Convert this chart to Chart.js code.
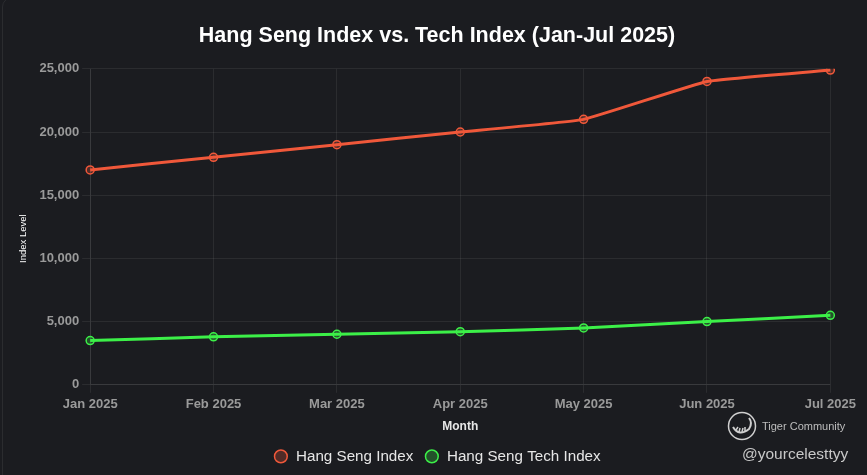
<!DOCTYPE html>
<html>
<head>
<meta charset="utf-8">
<title>Hang Seng Index vs. Tech Index</title>
<script src="https://cdn.jsdelivr.net/npm/chart.js"></script>
<style>
  html, body { margin: 0; padding: 0; background: #1b1c20; overflow: hidden; }
  .wrap { position: relative; width: 867px; height: 475px; }
  .card { position: absolute; left: 2px; top: -3px; width: 870px; height: 490px; border: 1px solid rgba(255,255,255,0.07); border-radius: 10px; box-sizing: border-box; }
  canvas { position: absolute; left: 0; top: 0; display: block; }
  .mark { position: absolute; color: #c8c8c8; font-family: 'Liberation Sans', Arial, sans-serif; }
  .brand { left: 727px; top: 411px; display: flex; align-items: center; font-size: 11px; color: #bdbdbd; }
  .brand svg { margin-right: 5px; }
  .handle { left: 742px; top: 445px; font-size: 15.5px; }
</style>
</head>
<body>
<div class="wrap">
  <div class="card"></div>
  <canvas id="chart" width="860" height="475"></canvas>
  <div class="mark brand">
    <svg width="30" height="30" viewBox="0 0 30 30">
      <circle cx="15" cy="15" r="13.5" fill="none" stroke="#cfcfcf" stroke-width="1.5"/>
      <path d="M6 16 Q12 26 22 18 Q26 12 22 7" fill="none" stroke="#cfcfcf" stroke-width="2"/>
      <path d="M9 19 L11 16 M12 21 L13 17 M15 21 L16 17 M18 20 L18 16" stroke="#cfcfcf" stroke-width="1.5"/>
    </svg>
    Tiger Community
  </div>
  <div class="mark handle">@yourcelesttyy</div>
</div>
<script>
// data
const months = ['Jan 2025', 'Feb 2025', 'Mar 2025', 'Apr 2025', 'May 2025', 'Jun 2025', 'Jul 2025'];
const hangSeng = [17000, 18000, 19000, 20000, 21000, 24000, 24900];
const hangSengTech = [3500, 3800, 4000, 4200, 4500, 5000, 5500];

Chart.defaults.font.family = "'Liberation Sans', Arial, sans-serif";

new Chart(document.getElementById('chart').getContext('2d'), {
  type: 'line',
  data: {
    labels: months,
    datasets: [
      {
        label: 'Hang Seng Index',
        data: hangSeng,
        borderColor: '#f0583a',
        backgroundColor: 'rgba(240,88,58,0.25)',
        borderWidth: 3,
        pointRadius: 4,
        pointBorderWidth: 1.5,
        tension: 0.1
      },
      {
        label: 'Hang Seng Tech Index',
        data: hangSengTech,
        borderColor: '#3cf048',
        backgroundColor: 'rgba(60,240,72,0.25)',
        borderWidth: 3,
        pointRadius: 4,
        pointBorderWidth: 1.5,
        tension: 0.1
      }
    ]
  },
  options: {
    responsive: false,
    animation: false,
    layout: { padding: { left: 14, right: 0, top: 7, bottom: 1 } },
    plugins: {
      title: {
        display: true,
        text: 'Hang Seng Index vs. Tech Index (Jan-Jul 2025)',
        color: '#ffffff',
        font: { size: 21.5, weight: 'bold' },
        padding: { top: 16, bottom: 20 }
      },
      legend: {
        position: 'bottom',
        labels: {
          color: '#e6e6e6',
          font: { size: 15.2 },
          usePointStyle: true,
          pointStyle: 'circle',
          boxWidth: 15,
          boxHeight: 9,
          padding: 11
        }
      }
    },
    scales: {
      x: {
        grid: { color: 'rgba(255,255,255,0.07)' },
        border: { color: 'rgba(255,255,255,0.07)' },
        ticks: { color: '#9a9a9a', padding: 4, font: { size: 13, weight: 'bold' } },
        title: { display: true, text: 'Month', color: '#e6e6e6', font: { size: 12, weight: 'bold' }, padding: { top: 3, bottom: 4 } }
      },
      y: {
        min: 0,
        max: 25000,
        grid: { color: 'rgba(255,255,255,0.07)' },
        border: { color: 'rgba(255,255,255,0.07)' },
        ticks: { stepSize: 5000, color: '#9a9a9a', font: { size: 13, weight: 'bold' } },
        title: { display: true, text: 'Index Level         ', color: '#ffffff', font: { size: 9.5 }, padding: { top: 4, bottom: 7 } }
      }
    }
  }
});
</script>
</body>
</html>
